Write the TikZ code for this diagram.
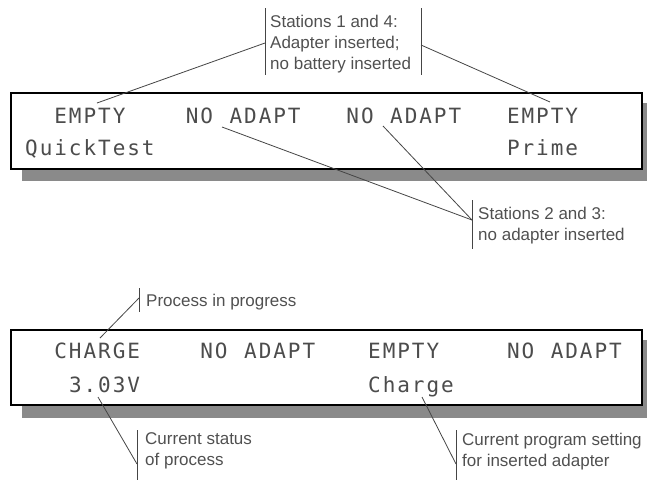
\documentclass[tikz,border=0pt]{standalone}
\usepackage{fontspec}
\setmainfont{Liberation Sans}
\newfontfamily\lcdfont{DejaVu Sans Mono}
\makeatletter
\newcommand\lcdstr[1]{{\lcdfont\fontsize{21}{21}\selectfont\lcd@loop#1\@nil}}
\def\lcd@loop#1{\ifx#1\@nil\else\makebox[14.6pt][l]{#1}\expandafter\lcd@loop\fi}
\makeatother
\definecolor{shadowc}{HTML}{8A8A8A}
\definecolor{lcdc}{HTML}{4C4C4C}
\definecolor{lblc}{HTML}{505050}
\definecolor{leadc}{HTML}{454545}
\tikzset{
  lcdpanel/.style={draw=black, line width=2.2pt, fill=white},
  panelshadow/.style={fill=shadowc},
  lcdtxt/.style={anchor=base west, inner sep=0pt, text=lcdc},
  lbl/.style={anchor=north west, inner sep=0pt, align=left, text=lblc,
    font=\fontsize{17}{21}\selectfont},
  leader/.style={draw=leadc, line width=0.8pt},
  barline/.style={draw=leadc, line width=0.9pt}
}
\begin{document}
\begin{tikzpicture}[x=1pt,y=-1pt]
\useasboundingbox (0,0) rectangle (647,480);
% ---------- top panel ----------
\fill[panelshadow] (22,103) rectangle (650,181);
\draw[lcdpanel] (11,93) rectangle (642,169);
\node[lcdtxt] (t1) at (54.2,123) {\lcdstr{EMPTY}};
\node[lcdtxt] (t2) at (185.6,123) {\lcdstr{NO~ADAPT}};
\node[lcdtxt] (t3) at (346.2,123) {\lcdstr{NO~ADAPT}};
\node[lcdtxt] (t4) at (506.8,123) {\lcdstr{EMPTY}};
\node[lcdtxt] (t5) at (25,155) {\lcdstr{QuickTest}};
\node[lcdtxt] (t6) at (506.8,155) {\lcdstr{Prime}};
% ---------- bottom panel ----------
\fill[panelshadow] (22,340) rectangle (650,418);
\draw[lcdpanel] (11,330) rectangle (642,405);
\node[lcdtxt] (b1) at (54.2,358) {\lcdstr{CHARGE}};
\node[lcdtxt] (b2) at (200.2,358) {\lcdstr{NO~ADAPT}};
\node[lcdtxt] (b3) at (368,358) {\lcdstr{EMPTY}};
\node[lcdtxt] (b4) at (506.8,358) {\lcdstr{NO~ADAPT}};
\node[lcdtxt] (b5) at (68.8,392) {\lcdstr{3.03V}};
\node[lcdtxt] (b6) at (368,392) {\lcdstr{Charge}};
% ---------- labels ----------
\node[lbl] (la) at (270,14.8) {Stations 1 and 4:\\Adapter inserted;\\no battery inserted};
\node[lbl] (lb) at (478,206.8) {Stations 2 and 3:\\no adapter inserted};
\node[lbl] (lc) at (146,293.8) {Process in progress};
\node[lbl] (ld) at (145,432.8) {Current status\\of process};
\node[lbl] (le) at (462,432.8) {Current program setting\\for inserted adapter};
% bars
\coordinate (laL1) at (265,8);  \coordinate (laL2) at (265,75);
\coordinate (laR1) at (421,8);  \coordinate (laR2) at (421,75);
\coordinate (lb1) at (472,200); \coordinate (lb2) at (472,249);
\coordinate (lc1) at (139,288); \coordinate (lc2) at (139,312);
\coordinate (ld1) at (137,430); \coordinate (ld2) at (137,480);
\coordinate (le1) at (456,430); \coordinate (le2) at (456,480);
\draw[barline] (laL1) -- (laL2);
\draw[barline] (laR1) -- (laR2);
\draw[barline] (lb1) -- (lb2);
\draw[barline] (lc1) -- (lc2);
\draw[barline] (ld1) -- (ld2);
\draw[barline] (le1) -- (le2);
% leader ends
\coordinate (aL) at (265,43);  \coordinate (pE1) at (97,103);
\coordinate (aR) at (421,45);  \coordinate (pE4) at (550,102);
\coordinate (bj) at (472,220);
\coordinate (pN1) at (222,127); \coordinate (pN2) at (383,126);
\coordinate (cj) at (139,298); \coordinate (pC) at (100,338);
\coordinate (dj) at (137,464); \coordinate (pV) at (98,397);
\coordinate (ej) at (456,464); \coordinate (pG) at (422,397);
\draw[leader] (aL) -- (pE1);
\draw[leader] (aR) -- (pE4);
\draw[leader] (pN1) -- (bj);
\draw[leader] (pN2) -- (bj);
\draw[leader] (cj) -- (pC);
\draw[leader] (pV) -- (dj);
\draw[leader] (pG) -- (ej);
\end{tikzpicture}
\end{document}
